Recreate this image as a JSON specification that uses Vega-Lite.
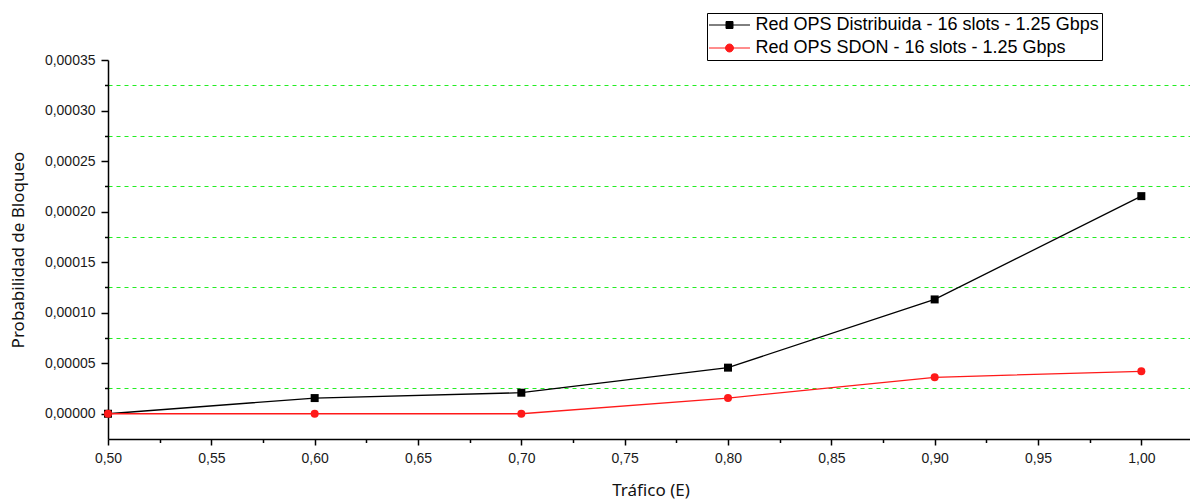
{
  "$schema": "https://vega.github.io/schema/vega-lite/v6.json",
  "width": 1085,
  "height": 379,
  "autosize": {"type": "none"},
  "padding": {"left": 108, "top": 60, "right": 0, "bottom": 62},
  "background": "white",
  "config": {
    "view": {"stroke": null},
    "axis": {
      "domainColor": "black",
      "domainWidth": 1.5,
      "tickColor": "black",
      "tickWidth": 1.5,
      "labelFont": "Liberation Sans",
      "labelFontSize": 14,
      "labelColor": "#1a1a1a",
      "titleFont": "Noto Sans",
      "titleFontSize": 17,
      "titleFontWeight": "normal",
      "titleColor": "#111"
    }
  },
  "data": {
    "values": [
      {"trafico": 0.5, "prob": 0.0, "serie": "Red OPS Distribuida - 16 slots - 1.25 Gbps"},
      {"trafico": 0.6, "prob": 0.0000155, "serie": "Red OPS Distribuida - 16 slots - 1.25 Gbps"},
      {"trafico": 0.7, "prob": 0.0000208, "serie": "Red OPS Distribuida - 16 slots - 1.25 Gbps"},
      {"trafico": 0.8, "prob": 0.0000456, "serie": "Red OPS Distribuida - 16 slots - 1.25 Gbps"},
      {"trafico": 0.9, "prob": 0.0001131, "serie": "Red OPS Distribuida - 16 slots - 1.25 Gbps"},
      {"trafico": 1.0, "prob": 0.0002153, "serie": "Red OPS Distribuida - 16 slots - 1.25 Gbps"},
      {"trafico": 0.5, "prob": 0.0, "serie": "Red OPS SDON - 16 slots - 1.25 Gbps"},
      {"trafico": 0.6, "prob": 0.0, "serie": "Red OPS SDON - 16 slots - 1.25 Gbps"},
      {"trafico": 0.7, "prob": 0.0, "serie": "Red OPS SDON - 16 slots - 1.25 Gbps"},
      {"trafico": 0.8, "prob": 0.0000155, "serie": "Red OPS SDON - 16 slots - 1.25 Gbps"},
      {"trafico": 0.9, "prob": 0.000036, "serie": "Red OPS SDON - 16 slots - 1.25 Gbps"},
      {"trafico": 1.0, "prob": 0.000042, "serie": "Red OPS SDON - 16 slots - 1.25 Gbps"}
    ]
  },
  "encoding": {
    "x": {
      "field": "trafico",
      "type": "quantitative",
      "scale": {"domain": [0.5, 1.025], "nice": false, "zero": false},
      "axis": {
        "title": "Tráfico (E)",
        "values": [0.5, 0.525, 0.55, 0.575, 0.6, 0.625, 0.65, 0.675, 0.7, 0.725, 0.75, 0.775, 0.8, 0.825, 0.85, 0.875, 0.9, 0.925, 0.95, 0.975, 1.0],
        "labelExpr": "round(datum.value*40)%2==0 ? replace(format(datum.value,'.2f'),'.',',') : ''",
        "tickSize": {"condition": {"test": "round(datum.value*40)%2==0", "value": 6}, "value": 3.5},
        "labelPadding": 6,
        "titlePadding": 17,
        "grid": false,
        "labelFlush": false,
        "labelOverlap": false
      }
    },
    "y": {
      "field": "prob",
      "type": "quantitative",
      "scale": {"domain": [-0.000025, 0.00035], "nice": false, "zero": false},
      "axis": {
        "title": "Probabilidad de Bloqueo",
        "values": [0, 0.000025, 0.00005, 0.000075, 0.0001, 0.000125, 0.00015, 0.000175, 0.0002, 0.000225, 0.00025, 0.000275, 0.0003, 0.000325, 0.00035],
        "labelExpr": "round(datum.value*40000)%2==0 ? replace(format(datum.value,'.5f'),'.',',') : ''",
        "tickSize": {"condition": {"test": "round(datum.value*40000)%2==0", "value": 7}, "value": 3.5},
        "labelPadding": 6,
        "titlePadding": 17,
        "grid": true,
        "gridColor": "#22ee22",
        "gridDash": [4, 4],
        "gridWidth": 1.2,
        "gridOpacity": {"condition": {"test": "round(datum.value*40000)%2==0", "value": 0}, "value": 1},
        "labelFlush": false,
        "labelOverlap": false
      }
    }
  },
  "layer": [
    {
      "mark": {"type": "line", "strokeWidth": 1.3},
      "encoding": {
        "color": {
          "field": "serie",
          "type": "nominal",
          "scale": {"range": ["#000000", "#ff1a1a"]},
          "legend": null
        }
      }
    },
    {
      "transform": [{"filter": "datum.trafico > 5"}],
      "mark": {"type": "point", "filled": true, "opacity": 1, "strokeWidth": 1},
      "encoding": {
        "fill": {
          "field": "serie",
          "type": "nominal",
          "scale": {"domain": ["Red OPS Distribuida - 16 slots - 1.25 Gbps", "Red OPS SDON - 16 slots - 1.25 Gbps"], "range": ["#000000", "#ff1a1a"]},
          "legend": {
            "title": null,
            "orient": "none",
            "legendX": 599,
            "legendY": -47,
            "direction": "vertical",
            "strokeColor": "black",
            "fillColor": "white",
            "padding": 3,
            "rowPadding": 5,
            "symbolSize": 289,
            "symbolStrokeWidth": 1,
            "symbolOffset": 10.5,
            "labelOffset": 17,
            "labelFont": "Liberation Sans",
            "labelFontSize": 18,
            "labelColor": "black",
            "labelLimit": 500
          }
        },
        "stroke": {
          "field": "serie",
          "type": "nominal",
          "scale": {"domain": ["Red OPS Distribuida - 16 slots - 1.25 Gbps", "Red OPS SDON - 16 slots - 1.25 Gbps"], "range": ["#000000", "#ff1a1a"]}
        },
        "shape": {
          "field": "serie",
          "type": "nominal",
          "scale": {"domain": ["Red OPS Distribuida - 16 slots - 1.25 Gbps", "Red OPS SDON - 16 slots - 1.25 Gbps"], "range": ["M-2.41,0L2.41,0M-0.41,-0.41L0.41,-0.41L0.41,0.41L-0.41,0.41Z", "M-2.41,0L2.41,0M0.47,0A0.47,0.47,0,1,1,-0.47,0A0.47,0.47,0,1,1,0.47,0Z"]}
        }
      }
    },
    {
      "transform": [{"filter": "datum.serie == 'Red OPS Distribuida - 16 slots - 1.25 Gbps'"}],
      "mark": {"type": "square", "color": "#000000", "opacity": 1, "size": 64}
    },
    {
      "transform": [{"filter": "datum.serie == 'Red OPS SDON - 16 slots - 1.25 Gbps'"}],
      "mark": {"type": "circle", "color": "#ff1a1a", "opacity": 1, "size": 64}
    }
  ]
}
